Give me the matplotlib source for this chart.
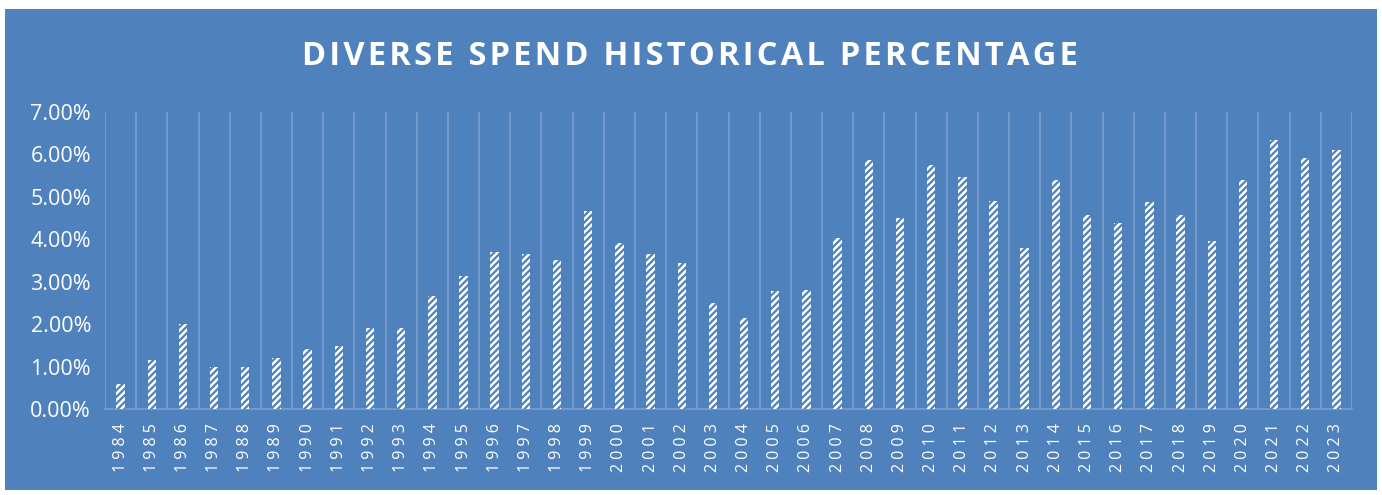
import numpy as np
import matplotlib.pyplot as plt
from matplotlib.patches import Rectangle
from matplotlib.ticker import FuncFormatter

years = list(range(1984, 2024))
pct = [0.58, 1.16, 2.00, 1.00, 1.00, 1.21, 1.41, 1.48, 1.91, 1.91,
       2.67, 3.14, 3.70, 3.66, 3.51, 4.67, 3.91, 3.66, 3.45, 2.50,
       2.15, 2.78, 2.81, 4.02, 5.87, 4.50, 5.76, 5.46, 4.90, 3.80,
       5.40, 4.58, 4.39, 4.87, 4.57, 3.95, 5.40, 6.34, 5.91, 6.10]
title = 'DIVERSE SPEND HISTORICAL PERCENTAGE'

blue = '#4f81bd'
grid = '#7b9fd0'

plt.rcParams['font.family'] = ['Open Sans', 'DejaVu Sans']
plt.rcParams['hatch.linewidth'] = 1.6
plt.rcParams['hatch.color'] = blue

W, H = 1382, 495
fig = plt.figure(figsize=(W / 100, H / 100), dpi=100, facecolor='white')
fig.patches.append(Rectangle((5 / W, 5 / H), 1372 / W, 481 / H,
                             transform=fig.transFigure, facecolor=blue,
                             edgecolor='none', zorder=-10))

ax = fig.add_axes([105 / W, 1 - 409 / H, (1352 - 105) / W, (409 - 112) / H])
ax.patch.set_alpha(0)

x = np.arange(len(years))
ax.bar(x, pct, width=0.27, color='white', hatch='/////', edgecolor=blue,
       linewidth=0, zorder=3)

ax.set_xlim(-0.5, len(years) - 0.5)
ax.set_ylim(0, 7)
ax.set_yticks(np.arange(0, 8, 1))
ax.yaxis.set_major_formatter(FuncFormatter(lambda v, p: '%.2f%%' % v))

ax.set_xticks(x)
ax.set_xticklabels([' '.join(str(y)) for y in years], rotation=90,
                   fontsize=11.5, color='white')
for b in np.arange(-0.5, len(years), 1):
    ax.axvline(b, color=grid, lw=1.2, zorder=1)

for s in ['top', 'right', 'left']:
    ax.spines[s].set_visible(False)
ax.spines['bottom'].set_color(grid)
ax.spines['bottom'].set_linewidth(1.2)
ax.tick_params(axis='x', length=0, pad=10)
ax.tick_params(axis='y', length=0, pad=10, labelsize=15.5, labelcolor='white')

# letter-spaced title
spaced = '\u200a'.join(title)
fig.text(690 / W, 1 - 56 / H, spaced, ha='center', va='center',
         fontsize=23.5, fontweight='bold', color='white')

fig.savefig('out.png', dpi=100, facecolor='white')
